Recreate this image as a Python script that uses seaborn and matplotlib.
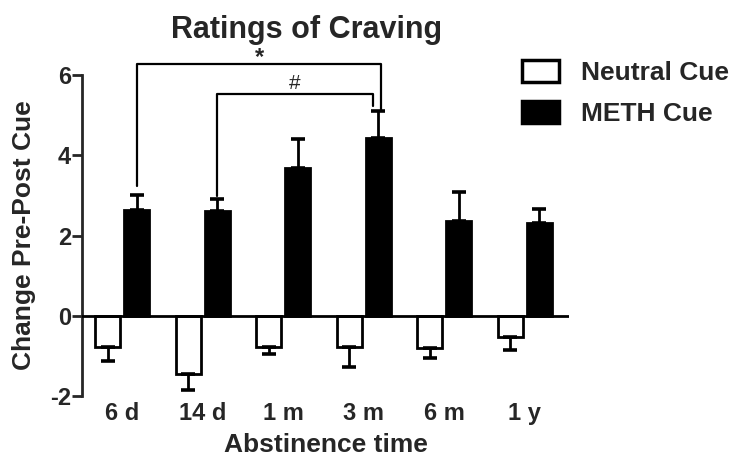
import numpy as np
import pandas as pd
import matplotlib
matplotlib.use("Agg")
import matplotlib.pyplot as plt
from matplotlib.patches import Patch
import seaborn as sns

# values (mean change, one-sided SEM)
times = ["6 d", "14 d", "1 m", "3 m", "6 m", "1 y"]
cues = ["Neutral Cue", "METH Cue"]
neutral_mean = [-0.77, -1.46, -0.77, -0.77, -0.81, -0.53]
neutral_sem = [0.35, 0.39, 0.19, 0.51, 0.25, 0.32]
meth_mean = [2.63, 2.62, 3.67, 4.44, 2.36, 2.31]
meth_sem = [0.38, 0.30, 0.73, 0.67, 0.73, 0.34]

# significance brackets: (left group, right group), label
sig_pairs = [(0, 3), (1, 3)]
sig_labels = ["*", "#"]
sig_top = [6.28, 5.53]
sig_left_end = [3.23, 2.98]
sig_right_end = [5.12, 5.22]
sig_right_shift = [0.04, -0.07]

df = pd.DataFrame({
    "time": times * 2,
    "cue": [cues[0]] * len(times) + [cues[1]] * len(times),
    "change": neutral_mean + meth_mean,
})

sns.set_style("ticks")
plt.rcParams["font.family"] = ["Liberation Sans", "DejaVu Sans"]
plt.rcParams["font.weight"] = "bold"

fig = plt.figure(figsize=(7.4, 4.65), dpi=100)
ax = fig.add_axes([82 / 740, 69 / 465, 487 / 740, 321 / 465])

sns.barplot(data=df, x="time", y="change", hue="cue", order=times, hue_order=cues,
            palette={cues[0]: "white", cues[1]: "black"}, edgecolor="black",
            linewidth=2, width=0.72, gap=0.14, errorbar=None, legend=False,
            saturation=1, ax=ax, zorder=2)

# one-sided error bars
centers = {}
for k, (cont, sem) in enumerate(zip(ax.containers[:2], [neutral_sem, meth_sem])):
    xs = np.array([b.get_x() + b.get_width() / 2 for b in cont])
    hs = np.array([b.get_height() for b in cont])
    centers[k] = xs
    lower = np.where(hs < 0, sem, 0)
    upper = np.where(hs >= 0, sem, 0)
    ax.errorbar(xs, hs, yerr=[lower, upper], fmt="none", ecolor="black",
                elinewidth=2, capsize=5, capthick=2.6, zorder=3)

ax.axhline(0, color="black", lw=2, zorder=4)

# brackets
mx = centers[1]
for (i, j), lab, top, le, re, sh in zip(sig_pairs, sig_labels, sig_top,
                                         sig_left_end, sig_right_end, sig_right_shift):
    x0, x1 = mx[i], mx[j] + sh
    ax.plot([x0, x0, x1, x1], [le, top, top, re], color="black", lw=1.6,
            clip_on=False, zorder=5)
    if lab == "*":
        ax.text((x0 + x1) / 2, top + 0.15, lab, ha="center", va="center",
                fontsize=17, fontweight="bold", clip_on=False)
    else:
        ax.text((x0 + x1) / 2, top + 0.25, lab, ha="center", va="center",
                fontsize=15, fontweight="normal", clip_on=False)

ax.set_xlim(-0.5, 5.55)
ax.set_ylim(-2, 6)
ax.set_yticks([-2, 0, 2, 4, 6])
ax.set_yticklabels(["-2", "0", "2", "4", "6"])
for s in ["top", "right", "bottom"]:
    ax.spines[s].set_visible(False)
ax.spines["left"].set_linewidth(2)
ax.tick_params(axis="y", length=7, width=2, pad=1, labelsize=17)
ax.tick_params(axis="x", length=0, pad=4, labelsize=17)

ax.set_xlabel("Abstinence time", fontsize=19, fontweight="bold", labelpad=6)
ax.set_ylabel("Change Pre-Post Cue", fontsize=19, fontweight="bold", labelpad=10)
ax.set_title("Ratings of Craving", fontsize=22, fontweight="bold",
             x=(307 - 82) / 487, pad=27)

handles = [Patch(facecolor="white", edgecolor="black", linewidth=2.5),
           Patch(facecolor="black", edgecolor="black", linewidth=2.5)]
fig.legend(handles, cues, loc="upper left", bbox_to_anchor=(522 / 740, 1 - 60 / 465),
           frameon=False, fontsize=19, handlelength=1.4, handleheight=0.9,
           handletextpad=0.85, labelspacing=0.62, borderpad=0, borderaxespad=0)

fig.savefig("out.png", dpi=100)
